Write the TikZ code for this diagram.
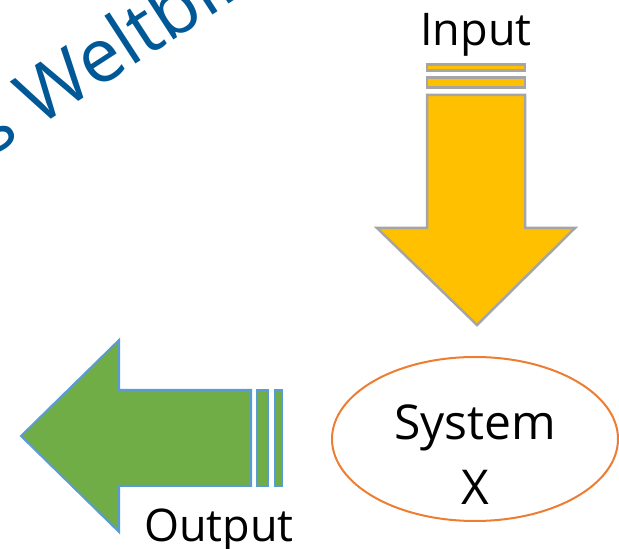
\documentclass[tikz,border=0pt]{standalone}
\usepackage{fontspec}
\setmainfont{Open Sans}
\usetikzlibrary{shapes.geometric}
\definecolor{inyellow}{RGB}{255,192,0}
\definecolor{ingray}{RGB}{165,165,165}
\definecolor{outgreen}{RGB}{112,173,71}
\definecolor{outblue}{RGB}{91,155,213}
\definecolor{sysorange}{RGB}{237,125,49}
\definecolor{titleblue}{RGB}{0,88,150}
\begin{document}
\begin{tikzpicture}[x=1pt,y=1pt,
  inarrow/.style={fill=inyellow,draw=ingray,line width=2.5pt},
  outarrow/.style={fill=outgreen,draw=outblue,line width=2pt},
  txt/.style={font=\fontsize{45}{50}\selectfont,inner sep=0pt}]
  % Fix the page size
  \useasboundingbox (0,0) rectangle (619,549);

  % Title, cut off at the page edge
  \begin{scope}
    \clip (0,0) rectangle (619,549);
    \node[rotate=33,anchor=base west,inner sep=0pt,text=titleblue,
      font=\fontsize{75}{80}\selectfont] (title) at (38,421) {\llap{Das }Weltbild};
  \end{scope}

  % Input arrow (stripes, then body)
  \foreach \ytop/\ybot in {484.5/478.5,471.5/461.5}
    \draw[inarrow] (427,\ytop) rectangle (525,\ybot);
  \draw[inarrow] (427,454) -- (525,454) -- (525,321) -- (575,321)
    -- (477,224) -- (377,321) -- (427,321) -- cycle;

  % Output arrow (stripes, then body)
  \foreach \xl/\xr in {257/268,275/282}
    \draw[outarrow] (\xl,159) rectangle (\xr,63);
  \draw[outarrow] (251,159) -- (119,159) -- (119,209) -- (21,113)
    -- (119,17) -- (119,63) -- (251,63) -- cycle;

  % System
  \node[ellipse,draw=sysorange,line width=2pt,minimum width=286pt,
    minimum height=164pt] (sys) at (475,110) {};
  \node[align=center,inner sep=0pt,font=\fontsize{48}{65}\selectfont]
    (systext) at ([yshift=-16pt]sys.center) {System\\X};

  % Labels
  \node[txt,anchor=base] (input) at (476,503) {Input};
  \node[txt,anchor=base] (output) at (219,7) {Output};
\end{tikzpicture}
\end{document}
